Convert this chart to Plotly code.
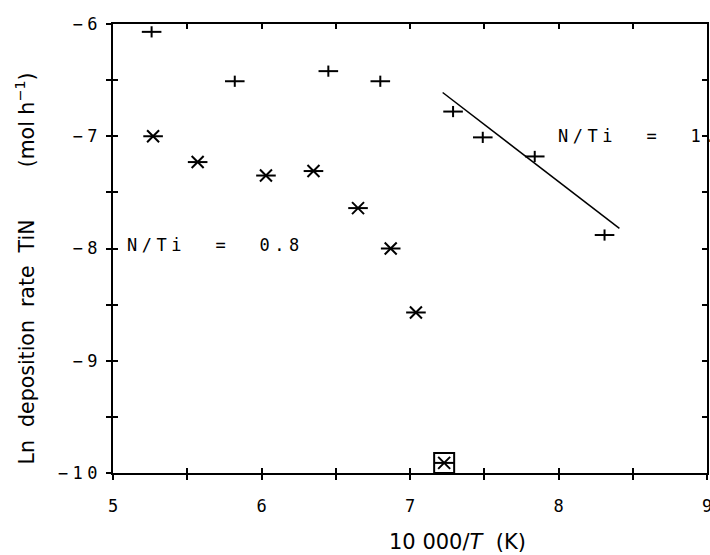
import plotly.graph_objects as go

# ---- data ----
# N/Ti = 1 series (plus markers)
plus_x = [5.26, 5.82, 6.45, 6.80, 7.29, 7.49, 7.84, 8.31]
plus_y = [-6.07, -6.51, -6.42, -6.51, -6.78, -7.01, -7.18, -7.88]
# N/Ti = 0.8 series (star markers)
star_x = [5.27, 5.57, 6.03, 6.35, 6.65, 6.87, 7.04, 7.23]
star_y = [-7.00, -7.23, -7.35, -7.31, -7.64, -8.00, -8.57, -9.91]
# boxed point
box_x = [7.23]
box_y = [-9.91]
# fitted line for N/Ti = 1
fit_x = [7.22, 8.41]
fit_y = [-6.61, -7.82]

x_tickvals = [5, 5.5, 6, 6.5, 7, 7.5, 8, 8.5, 9]
x_ticklabels = ["5", "", "6", "", "7", "", "8", "", "9"]
y_tickvals = [-10, -9.5, -9, -8.5, -8, -7.5, -7, -6.5, -6]
y_ticklabels = ["−10", "", "−9", "", "−8", "", "−7", "", "−6"]

label_hi = "N/Ti  =  1.0"
label_lo = "N/Ti  =  0.8"


def spaced(s, ls=4.5):
    if len(s) < 2:
        return s
    s = s.replace(" ", "\u00a0")
    return "<span style='letter-spacing:%spx'>%s</span>%s" % (ls, s[:-1], s[-1])


MONO = "DejaVu Sans Mono"
SANS = "DejaVu Sans"
BLACK = "black"

fig = go.Figure()

mk_line = dict(color=BLACK, width=2)

# plus markers: horizontal + vertical strokes
fig.add_trace(go.Scatter(x=plus_x, y=plus_y, mode="markers", cliponaxis=False,
                         marker=dict(symbol="line-ew", size=14, line=mk_line), hoverinfo="skip"))
fig.add_trace(go.Scatter(x=plus_x, y=plus_y, mode="markers", cliponaxis=False,
                         marker=dict(symbol="line-ns", size=8, line=mk_line), hoverinfo="skip"))
# star markers: horizontal stroke + x
fig.add_trace(go.Scatter(x=star_x, y=star_y, mode="markers", cliponaxis=False,
                         marker=dict(symbol="line-ew", size=14, line=mk_line), hoverinfo="skip"))
fig.add_trace(go.Scatter(x=star_x, y=star_y, mode="markers", cliponaxis=False,
                         marker=dict(symbol="x-thin", size=12, line=mk_line), hoverinfo="skip"))
# box around one point
fig.add_trace(go.Scatter(x=box_x, y=box_y, mode="markers", cliponaxis=False,
                         marker=dict(symbol="square-open", size=20, color=BLACK,
                                     line=dict(color=BLACK, width=2)), hoverinfo="skip"))
# fit line
fig.add_trace(go.Scatter(x=fit_x, y=fit_y, mode="lines",
                         line=dict(color=BLACK, width=1.5), hoverinfo="skip"))
# invisible traces so the overlay axes (inner ticks, top/right frame) get drawn
for xa, ya in (("x2", "y2"), ("x3", "y3")):
    fig.add_trace(go.Scatter(x=plus_x, y=plus_y, xaxis=xa, yaxis=ya, mode="markers",
                             marker=dict(opacity=0, size=1), hoverinfo="skip"))

tickfont = dict(family=MONO, size=17, color=BLACK)

common = dict(showgrid=False, zeroline=False, tickcolor=BLACK, tickwidth=1.5, ticklen=5,
              automargin=False)

fig.update_layout(
    width=710, height=555,
    margin=dict(l=113, r=3, t=24, b=82, autoexpand=False),
    plot_bgcolor="white", paper_bgcolor="white",
    showlegend=False,
    xaxis=dict(range=[5, 9], tickvals=x_tickvals, ticktext=[spaced(t) for t in x_ticklabels],
               ticks="outside", showline=True, linewidth=2, linecolor=BLACK, mirror=True,
               tickfont=tickfont, ticklabelstandoff=12, ticklabeloverflow="allow", **common),
    xaxis2=dict(range=[5, 9], overlaying="x", anchor="y2", side="bottom", tickvals=x_tickvals,
                ticks="inside", showticklabels=False, showline=False, **common),
    xaxis3=dict(range=[5, 9], overlaying="x", anchor="y3", side="top", tickvals=x_tickvals,
                ticks="inside", showticklabels=False, showline=True, linewidth=2,
                linecolor=BLACK, **common),
    yaxis=dict(range=[-10, -6], tickvals=y_tickvals, ticktext=[spaced(t) for t in y_ticklabels],
               ticks="outside", showline=True, linewidth=2, linecolor=BLACK, mirror=True,
               tickfont=tickfont, ticklabelstandoff=5, ticklabeloverflow="allow", **common),
    yaxis2=dict(range=[-10, -6], overlaying="y", anchor="x2", side="left", tickvals=y_tickvals,
                ticks="inside", showticklabels=False, showline=False, **common),
    yaxis3=dict(range=[-10, -6], overlaying="y", anchor="x3", side="right", tickvals=y_tickvals,
                ticks="inside", showticklabels=False, showline=True, linewidth=2,
                linecolor=BLACK, **common),
)

nb = "\u00a0"
ytitle = ("Ln" + nb * 2 + "deposition" + nb * 2 + "rate" + nb * 2 + "TiN" + nb * 8
          + "(mol" + nb + "h<sup>−1</sup>)")
xtitle = "10" + nb + "000/<i>T</i>" + nb * 2 + "(K)"

fig.add_annotation(x=-0.147, y=0.455, xref="paper", yref="paper", text=ytitle,
                   textangle=-90, showarrow=False, xanchor="center", yanchor="middle",
                   font=dict(family=SANS, size=20.5, color=BLACK))
fig.add_annotation(x=0.58, y=-0.153, xref="paper", yref="paper", text=xtitle,
                   showarrow=False, xanchor="center", yanchor="middle",
                   font=dict(family=SANS, size=21, color=BLACK))

fig.add_annotation(x=7.983, y=-7.0, xref="x", yref="y", text=spaced(label_hi),
                   showarrow=False, xanchor="left", yanchor="middle",
                   font=dict(family=MONO, size=17, color=BLACK))
fig.add_annotation(x=5.081, y=-7.97, xref="x", yref="y", text=spaced(label_lo),
                   showarrow=False, xanchor="left", yanchor="middle",
                   font=dict(family=MONO, size=17, color=BLACK))

fig.write_html("out.html", config={"displayModeBar": False},
               post_script="document.body.style.margin='0';document.body.style.overflow='hidden';")
